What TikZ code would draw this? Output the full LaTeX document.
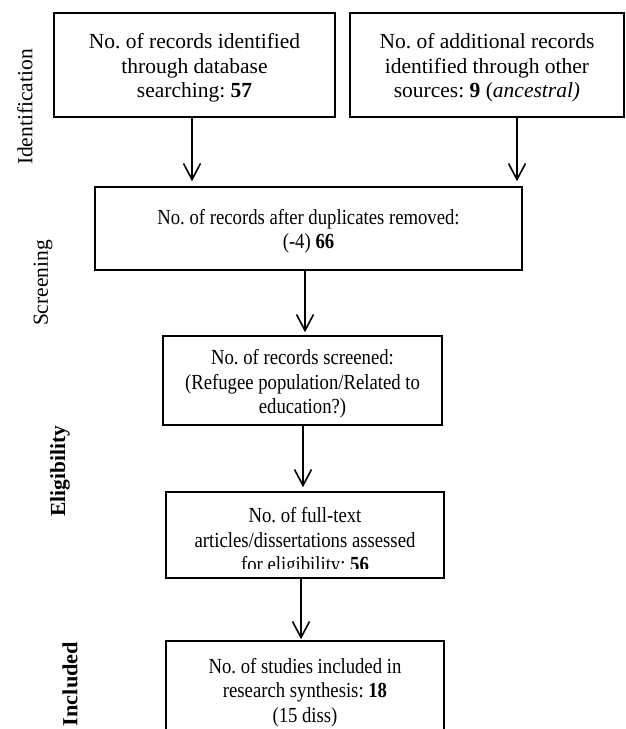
\documentclass[tikz,border=0pt]{standalone}
\usepackage{fontspec}
\setmainfont{Liberation Serif}
\newfontfamily\narrowserif[FakeStretch=0.87]{Liberation Serif}
\newfontfamily\wideserif[FakeStretch=1.04]{Liberation Serif}
\usetikzlibrary{arrows.meta}
\newcommand{\topstr}{\rule{0pt}{21pt}}
\begin{document}
\frenchspacing
\begin{tikzpicture}[x=1pt,y=-1pt,
  box/.style={draw, line width=1.6pt, inner sep=0pt, align=center, font=\fontsize{21.5}{24.5}\selectfont},
  nbox/.style={box, font=\narrowserif\fontsize{21.5}{24.5}\selectfont},
  txt/.style={inner sep=0pt, align=center, font=\narrowserif\fontsize{21.5}{24.5}\selectfont},
  flow/.style={line width=1.6pt, -{Straight Barb[length=16pt,width=17pt]}},
  side/.style={rotate=90, inner sep=0pt, font=\fontsize{21.5}{24.5}\selectfont},
  sidebf/.style={rotate=90, inner sep=0pt, font=\fontsize{21.5}{24.5}\selectfont\bfseries}
]
\useasboundingbox (0,0) rectangle (625,729);
\clip (0,0) rectangle (625,729);

% boxes
\node[box, minimum width=281pt, minimum height=104pt] (b1) at (194.5,65)
  {\topstr No. of records identified\\through database\\searching: \textbf{57}};
\node[box, minimum width=274pt, minimum height=104pt] (b2) at (487,65)
  {\topstr No. of additional records\\identified through other\\sources: \textbf{9} (\textit{ancestral)}};
\node[nbox, minimum width=427pt, minimum height=83pt] (b3) at (308.5,228.5)
  {\topstr No. of records after duplicates removed:\\(-4) \textbf{66}};
\node[nbox, minimum width=279pt, minimum height=89pt] (b4) at (302.5,380.5)
  {\rule{0pt}{22pt}No. of records screened:\\(Refugee population/Related to\\education?)};
\node[box, minimum width=278pt, minimum height=86pt] (b5) at (305,535) {};
\begin{scope}
  \clip (168,494) rectangle (442,568);
  \node[txt] (b5t) at (305,542)
    {No. of full-text\\articles/dissertations assessed\\for eligibility: \textbf{56}};
\end{scope}
\node[nbox, minimum width=278pt, minimum height=99pt] (b6) at (305,690.5)
  {\rule{0pt}{19pt}No. of studies included in\\research synthesis: \textbf{18}\\(15 diss)};

% connectors
\draw[flow, shorten >=5pt] ([xshift=-2.5pt]b1.south) -- ([xshift=-2.5pt]b1.south |- b3.north);
\draw[flow, shorten >=5pt] ([xshift=30pt]b2.south) -- ([xshift=30pt]b2.south |- b3.north);
\draw[flow, shorten >=3pt] ([xshift=-3.5pt]b3.south) -- ([xshift=-3.5pt]b3.south |- b4.north);
\draw[flow, shorten >=4pt] ([xshift=0.5pt]b4.south) -- ([xshift=0.5pt]b4.south |- b5.north);
\draw[flow, shorten >=1pt] ([xshift=-4pt]b5.south) -- ([xshift=-4pt]b5.south |- b6.north);

% side labels
\node[side] (l1) at (25,107) {Identification};
\node[side] (l2) at (43,283) {Screening};
\node[sidebf] (l3) at (60,471) {Eligibility};
\node[sidebf, font=\wideserif\fontsize{21.5}{24.5}\selectfont\bfseries] (l4) at (70,684) {Included};
\end{tikzpicture}
\end{document}
